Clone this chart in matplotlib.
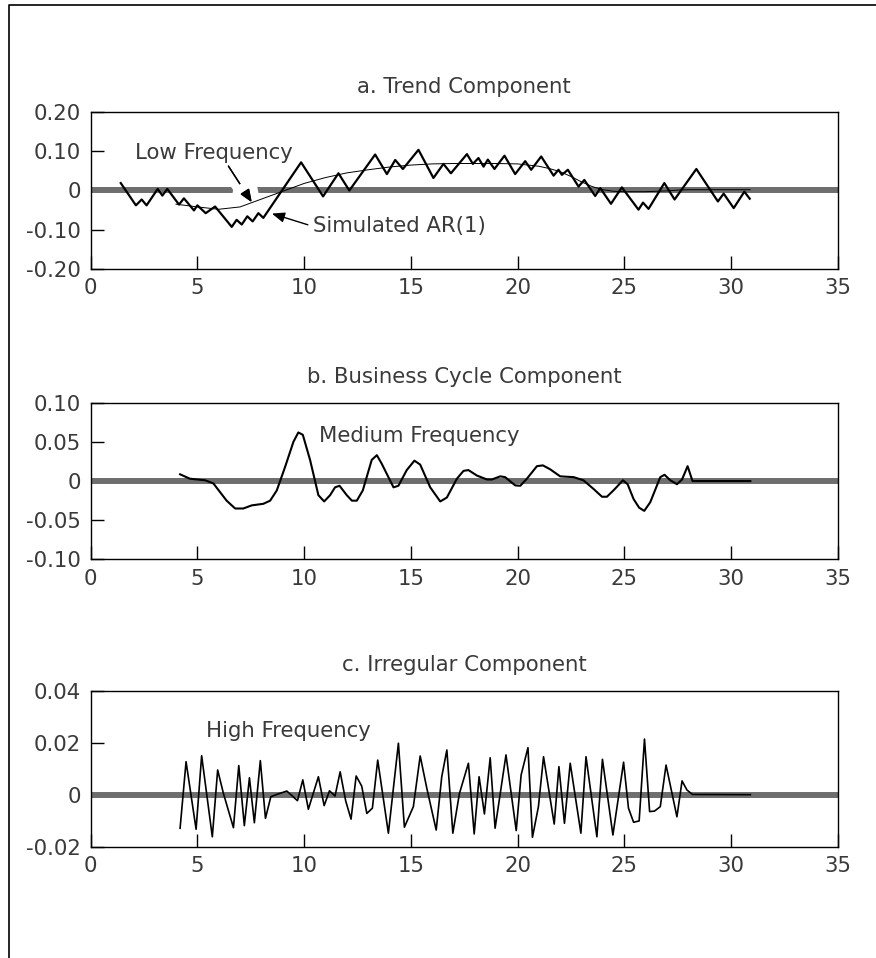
import numpy as np
import matplotlib
matplotlib.use("Agg")
import matplotlib.pyplot as plt
from matplotlib.lines import Line2D
import matplotlib.patheffects as pe

plt.rcParams['font.family'] = ['DejaVu Sans']

# a. trend component: simulated AR(1) and its low frequency part
ar_x = [1.41, 2.12, 2.39, 2.62, 3.14, 3.36, 3.59, 4.14, 4.37, 4.84, 5.00, 5.39, 5.83,
        6.61, 6.84, 7.08, 7.34, 7.59, 7.86, 8.09, 9.86, 10.89, 11.61, 12.12, 13.33,
        13.88, 14.27, 14.63, 15.36, 16.06, 16.53, 16.88, 17.63, 17.91, 18.17, 18.41,
        18.61, 18.92, 19.39, 19.89, 20.36, 20.64, 21.11, 21.69, 21.92, 22.08, 22.36,
        22.86, 23.13, 23.64, 23.88, 24.38, 24.89, 25.67, 25.88, 26.14, 26.88, 27.36,
        28.38, 29.39, 29.66, 30.13, 30.63, 30.88]
ar_y = [0.019, -0.038, -0.023, -0.038, 0.004, -0.013, 0.004, -0.036, -0.020, -0.051,
        -0.038, -0.058, -0.041, -0.093, -0.075, -0.087, -0.066, -0.079, -0.058, -0.070,
        0.072, -0.015, 0.044, 0.000, 0.092, 0.042, 0.078, 0.055, 0.104, 0.032, 0.068,
        0.044, 0.093, 0.068, 0.083, 0.061, 0.079, 0.055, 0.089, 0.042, 0.075, 0.053,
        0.087, 0.038, 0.053, 0.040, 0.053, 0.010, 0.027, -0.014, 0.006, -0.034, 0.008,
        -0.049, -0.031, -0.047, 0.019, -0.023, 0.055, -0.028, -0.008, -0.045, -0.003,
        -0.021]

low_x = [4.0, 5.0, 6.0, 7.0, 7.5, 8.0, 8.5, 9.0, 10.0, 11.0, 12.0, 13.0, 14.0, 15.0,
         16.0, 17.0, 18.0, 19.0, 20.0, 21.0, 21.5, 22.0, 22.5, 23.0, 23.5, 24.0, 24.5,
         25.0, 26.0, 27.0, 27.5, 28.0, 29.0, 30.0, 30.9]
low_y = [-0.035, -0.042, -0.048, -0.042, -0.032, -0.022, -0.012, -0.002, 0.018, 0.033,
         0.045, 0.053, 0.060, 0.065, 0.068, 0.069, 0.069, 0.069, 0.068, 0.062, 0.056,
         0.048, 0.036, 0.022, 0.010, 0.002, -0.002, -0.003, -0.003, -0.001, 0.001,
         0.002, 0.002, 0.002, 0.002]

# b. business cycle component
cyc_x = [4.19, 4.65, 5.36, 5.75, 6.37, 6.77, 7.15, 7.55, 8.09, 8.41, 8.72, 9.11, 9.50,
         9.73, 9.94, 10.28, 10.67, 10.94, 11.22, 11.45, 11.66, 12.00, 12.24, 12.47, 12.75,
         13.17, 13.41, 13.64, 14.19, 14.42, 14.81, 15.17, 15.44, 15.91, 16.38, 16.69,
         17.16, 17.47, 17.70, 18.10, 18.57, 18.80, 19.19, 19.42, 19.89, 20.13, 20.44,
         20.91, 21.19, 21.53, 22.00, 22.63, 23.09, 23.56, 23.96, 24.19, 24.53, 24.94,
         25.16, 25.44, 25.70, 25.94, 26.22, 26.69, 26.89, 27.16, 27.47, 27.71, 27.97,
         28.20, 30.91]
cyc_y = [0.0086, 0.003, 0.001, -0.003, -0.025, -0.035, -0.035, -0.031, -0.029, -0.025,
         -0.012, 0.018, 0.050, 0.062, 0.059, 0.027, -0.018, -0.026, -0.018, -0.008,
         -0.006, -0.018, -0.025, -0.025, -0.012, 0.027, 0.033, 0.022, -0.008, -0.006,
         0.014, 0.026, 0.021, -0.008, -0.026, -0.021, 0.003, 0.013, 0.014, 0.007, 0.002,
         0.002, 0.006, 0.005, -0.0055, -0.006, 0.003, 0.019, 0.020, 0.015, 0.006, 0.005,
         0.001, -0.010, -0.020, -0.020, -0.011, 0.001, -0.004, -0.023, -0.034, -0.038,
         -0.027, 0.005, 0.008, 0.001, -0.004, 0.002, 0.019, 0.000, 0.000]

# c. irregular component
irr_x = [4.19, 4.47, 4.94, 5.20, 5.70, 5.95, 6.22, 6.69, 6.94, 7.20, 7.44, 7.67, 7.95,
         8.19, 8.44, 8.72, 9.19, 9.69, 9.94, 10.20, 10.67, 10.94, 11.19, 11.45, 11.69,
         11.95, 12.20, 12.44, 12.70, 12.94, 13.20, 13.45, 13.95, 14.42, 14.70, 15.12,
         15.44, 15.75, 16.19, 16.45, 16.69, 16.97, 17.28, 17.70, 17.97, 18.20, 18.45,
         18.72, 18.95, 19.46, 19.94, 20.17, 20.49, 20.70, 20.98, 21.22, 21.72, 21.94,
         22.20, 22.47, 22.97, 23.21, 23.72, 23.98, 24.47, 24.97, 25.20, 25.44, 25.70,
         25.95, 26.19, 26.42, 26.69, 26.96, 27.47, 27.71, 27.94, 28.20, 30.91]
irr_y = [-0.0129, 0.0127, -0.0133, 0.0150, -0.0162, 0.0095, 0.0005, -0.0127, 0.0112,
         -0.0119, 0.0065, -0.0108, 0.0131, -0.0091, -0.0008, 0.0001, 0.0014, -0.0023,
         0.0057, -0.0056, 0.0069, -0.0042, 0.0015, -0.0005, 0.0088, -0.0024, -0.0094,
         0.0072, 0.0033, -0.0072, -0.0052, 0.0133, -0.0148, 0.0198, -0.0125, -0.0046,
         0.0149, 0.0025, -0.0136, 0.0069, 0.0172, -0.0148, 0.0005, 0.0121, -0.0151,
         0.0069, -0.0074, 0.0142, -0.0129, 0.0153, -0.0138, 0.0076, 0.0181, -0.0164,
         -0.0046, 0.0146, -0.0113, 0.0108, -0.0110, 0.0121, -0.0148, 0.0146, -0.0162,
         0.0136, -0.0155, 0.0125, -0.0052, -0.0106, -0.0101, 0.0214, -0.0065, -0.0063,
         -0.0046, 0.0114, -0.0085, 0.0053, 0.0018, 0.0001, 0.0]

x_ticks = [0, 5, 10, 15, 20, 25, 30, 35]
yt_a = [-0.20, -0.10, 0, 0.10, 0.20]
yl_a = ['-0.20', '-0.10', '0', '0.10', '0.20']
yt_b = [-0.10, -0.05, 0, 0.05, 0.10]
yl_b = ['-0.10', '-0.05', '0', '0.05', '0.10']
yt_c = [-0.02, 0, 0.02, 0.04]
yl_c = ['-0.02', '0', '0.02', '0.04']

TXT = '#3a3a3a'
FS = 15.3

fig = plt.figure(figsize=(8.76, 9.58), dpi=100)
ax_a = fig.add_axes([0.1035, 0.7195, 0.8527, 0.1633])
ax_b = fig.add_axes([0.1035, 0.4160, 0.8527, 0.1637])
ax_c = fig.add_axes([0.1035, 0.1162, 0.8527, 0.1628])

def style(ax, yt, yl, title):
    ax.axhline(0, color='#6e6e6e', lw=4.3, zorder=2)
    ax.set_xlim(0, 35)
    ax.set_ylim(yt[0], yt[-1])
    ax.set_xticks(x_ticks)
    ax.set_xticklabels([str(t) for t in x_ticks])
    ax.set_yticks(yt)
    ax.set_yticklabels(yl)
    ax.tick_params(direction='in', length=9.5, width=1.0, colors='black',
                   labelcolor=TXT, labelsize=FS, pad=7)
    for s in ax.spines.values():
        s.set_linewidth(1.0)
    ax.set_title(title, fontsize=FS, color=TXT, pad=14)

style(ax_a, yt_a, yl_a, 'a. Trend Component')
style(ax_b, yt_b, yl_b, 'b. Business Cycle Component')
style(ax_c, yt_c, yl_c, 'c. Irregular Component')

# panel a
ax_a.plot(low_x, low_y, color='black', lw=0.7, zorder=3)
ax_a.plot(ar_x, ar_y, color='black', lw=1.6, zorder=3)
lf = ax_a.annotate('Low Frequency', xy=(7.55, -0.030), xytext=(2.08, 0.095),
                   fontsize=FS, color=TXT, va='center', ha='left', zorder=2.5,
                   arrowprops=dict(arrowstyle='-|>,head_length=0.5,head_width=0.2',
                                   color='black', lw=1.0, shrinkA=0, shrinkB=0,
                                   relpos=(0.58, 0.0)))
lf.arrow_patch.set_path_effects([pe.withStroke(linewidth=13, foreground='white'),
                                 pe.Normal()])
ax_a.annotate('Simulated AR(1)', xy=(8.49, -0.059), xytext=(10.43, -0.092),
              fontsize=FS, color=TXT, va='center', ha='left', zorder=4,
              arrowprops=dict(arrowstyle='-|>,head_length=0.5,head_width=0.2',
                              color='black', lw=1.0, shrinkA=2, shrinkB=0,
                              relpos=(0.0, 0.5)))

# panel b
ax_b.plot(cyc_x, cyc_y, color='black', lw=1.5, zorder=3)
ax_b.text(10.72, 0.057, 'Medium Frequency', fontsize=FS, color=TXT, va='center', ha='left')

# panel c
ax_c.plot(irr_x, irr_y, color='black', lw=1.2, zorder=3)
ax_c.text(5.4, 0.0245, 'High Frequency', fontsize=FS, color=TXT, va='center', ha='left')

# outer frame (left and top only)
fx = 9.3 / 876
fy = 1 - 4.7 / 958
fig.add_artist(Line2D([fx, fx, 1.0], [0.0, fy, fy], color='black', lw=1.2,
                      transform=fig.transFigure))

fig.savefig('out.png', dpi=100)
